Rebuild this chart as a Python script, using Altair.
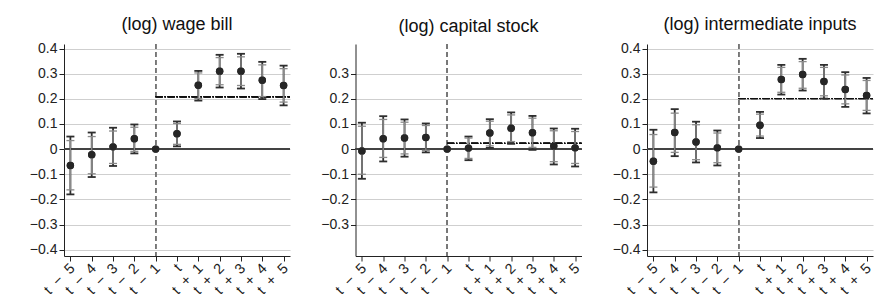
import json
import altair as alt
import pandas as pd

labels = ["t − 5", "t − 4", "t − 3", "t − 2", "t − 1", "t",
          "t + 1", "t + 2", "t + 3", "t + 4", "t + 5"]
titles = ["(log) wage bill", "(log) capital stock", "(log) intermediate inputs"]

# (log) wage bill
wage_est = [-0.065, -0.022, 0.009, 0.041, 0.0, 0.061, 0.254, 0.310, 0.310, 0.274, 0.253]
wage_hi95 = [0.050, 0.066, 0.085, 0.098, None, 0.110, 0.311, 0.375, 0.379, 0.347, 0.332]
wage_lo95 = [-0.180, -0.111, -0.067, -0.017, None, 0.011, 0.193, 0.245, 0.241, 0.199, 0.174]
wage_hi90 = [0.034, 0.050, 0.072, 0.087, None, 0.102, 0.303, 0.364, 0.367, 0.335, 0.320]
wage_lo90 = [-0.162, -0.098, -0.057, -0.009, None, 0.019, 0.201, 0.256, 0.253, 0.209, 0.187]
wage_avg = 0.208

# (log) capital stock
cap_est = [-0.007, 0.041, 0.044, 0.046, 0.0, 0.004, 0.064, 0.083, 0.065, 0.012, 0.005]
cap_hi95 = [0.105, 0.131, 0.118, 0.102, None, 0.050, 0.119, 0.146, 0.132, 0.082, 0.081]
cap_lo95 = [-0.118, -0.049, -0.030, -0.013, None, -0.044, 0.005, 0.021, -0.003, -0.061, -0.069]
cap_hi90 = [0.091, 0.118, 0.107, 0.094, None, 0.044, 0.111, 0.136, 0.123, 0.073, 0.070]
cap_lo90 = [-0.100, -0.033, -0.019, -0.005, None, -0.037, 0.013, 0.030, 0.007, -0.050, -0.057]
cap_avg = 0.023

# (log) intermediate inputs
int_est = [-0.048, 0.066, 0.028, 0.005, 0.0, 0.095, 0.277, 0.297, 0.269, 0.237, 0.213]
int_hi95 = [0.077, 0.159, 0.109, 0.074, None, 0.148, 0.335, 0.359, 0.335, 0.306, 0.283]
int_lo95 = [-0.172, -0.028, -0.053, -0.065, None, 0.044, 0.217, 0.233, 0.201, 0.168, 0.142]
int_hi90 = [0.058, 0.143, 0.097, 0.064, None, 0.139, 0.325, 0.348, 0.325, 0.295, 0.273]
int_lo90 = [-0.151, -0.013, -0.042, -0.054, None, 0.052, 0.226, 0.242, 0.212, 0.180, 0.154]
int_avg = 0.201

yticks_full = [-0.4, -0.3, -0.2, -0.1, 0, 0.1, 0.2, 0.3, 0.4]
yticks_cap = [-0.3, -0.2, -0.1, 0, 0.1, 0.2, 0.3]

XMIN, XMAX = -0.3, 10.3
YMIN, YMAX = -0.425, 0.418
FONT = "Liberation Sans"
ref_idx = labels.index("t − 1")

xscale = alt.Scale(domain=[XMIN, XMAX], nice=False, zero=False)
yscale = alt.Scale(domain=[YMIN, YMAX], nice=False, zero=False)
# widen the spacing inside each tick label as in the reference typesetting
shown_labels = [lbl.replace(" ", "\u00a0\u00a0") for lbl in labels]
label_expr = json.dumps(shown_labels, ensure_ascii=False) + "[datum.value]"


def panel(title, est, lo95, hi95, lo90, hi90, avg, yticks):
    df = pd.DataFrame({"idx": list(range(len(labels))), "est": est,
                       "lo95": lo95, "hi95": hi95, "lo90": lo90, "hi90": hi90})
    base = alt.Chart(df)
    xaxis = alt.Axis(values=list(range(len(labels))), tickCount=len(labels) + 2,
                     labelExpr=label_expr, title=None,
                     grid=False, labelAngle=-45, labelAlign="right", labelBaseline="middle",
                     labelFontSize=14.5, labelFont=FONT, labelColor="#222", labelPadding=5,
                     labelOffset=2,
                     labelOverlap=False, labelFlush=False, labelBound=False,
                     tickSize=5, tickColor="#222", domainColor="#222")
    yaxis = alt.Axis(values=yticks, tickCount=len(yticks) + 2, title=None, grid=True,
                     gridColor="#cfcfcf", gridWidth=1.2,
                     labelExpr="datum.value == 0 ? '0' : format(datum.value, '.1f')",
                     labelFontSize=14, labelFont=FONT, labelColor="#222", labelPadding=2,
                     labelOverlap=False, labelFlush=False, labelBound=False,
                     tickSize=5, tickColor="#222", domainColor="#222",
                     minExtent=50, maxExtent=50)

    def X(field="idx"):
        return alt.X(f"{field}:Q", scale=xscale, axis=xaxis, title=None)

    def Y(field):
        return alt.Y(f"{field}:Q", scale=yscale, axis=yaxis, title=None)

    zero = base.mark_rule(color="#444", strokeWidth=1).encode(y=alt.datum(0))
    vline = base.mark_rule(color="#777", strokeWidth=1, strokeDash=[5, 3]).encode(
        x=alt.datum(ref_idx))
    avgline = base.mark_rule(color="#111", strokeWidth=1, strokeDash=[7, 2, 1, 2]).encode(
        x=alt.datum(ref_idx), x2=alt.datum(XMAX), y=alt.datum(avg))

    valid = base.transform_filter("isValid(datum.lo95)")

    def ci(lo, hi, color, width):
        rule = valid.mark_rule(color=color, strokeWidth=width).encode(
            x=X(), y=Y(lo), y2=f"{hi}:Q")
        cap_hi = valid.mark_tick(orient="horizontal", size=8, thickness=width, color=color,
                                 opacity=1).encode(x=X(), y=Y(hi))
        cap_lo = valid.mark_tick(orient="horizontal", size=8, thickness=width, color=color,
                                 opacity=1).encode(x=X(), y=Y(lo))
        return [rule, cap_hi, cap_lo]

    points = base.mark_circle(size=55, color="#262626", opacity=1).encode(
        x=X(), y=Y("est"))

    layers = [points, zero, vline, avgline] + ci("lo95", "hi95", "#2e2e2e", 1.8) + \
        ci("lo90", "hi90", "#8a8a8a", 1.3) + [points]
    return alt.layer(*layers).properties(
        width=226, height=212,
        title=alt.TitleParams(title, fontSize=18, font=FONT, fontWeight="normal",
                              color="#111", offset=8, anchor="middle"))


p1 = panel(titles[0], wage_est, wage_lo95, wage_hi95, wage_lo90, wage_hi90, wage_avg, yticks_full)
p2 = panel(titles[1], cap_est, cap_lo95, cap_hi95, cap_lo90, cap_hi90, cap_avg, yticks_cap)
p3 = panel(titles[2], int_est, int_lo95, int_hi95, int_lo90, int_hi90, int_avg, yticks_full)

chart = alt.hconcat(p1, p2, p3, spacing=14.5).properties(
    padding={"left": 14, "top": 15, "right": 0, "bottom": 0},
    background="white",
).configure_view(stroke=None)

chart.save("out.html", embed_options={"renderer": "svg", "actions": False})
